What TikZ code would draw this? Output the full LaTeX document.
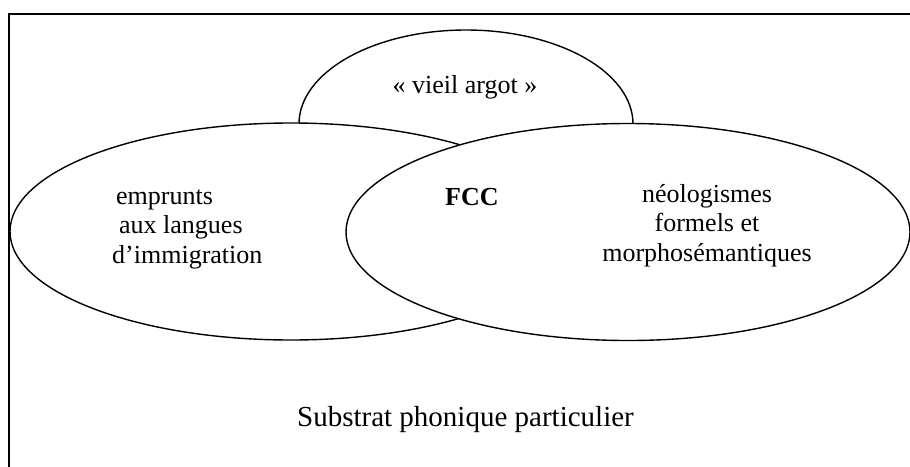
\documentclass[tikz,border=0pt]{standalone}
\usepackage{fontspec}
\setmainfont{Liberation Serif}
\usetikzlibrary{shapes.geometric}
\begin{document}
\begin{tikzpicture}[x=1pt,y=-1pt,
  blob/.style={draw=black,fill=white,line width=1.4pt,ellipse,inner sep=0pt},
  lbl/.style={font=\fontsize{26}{29.5}\selectfont,inner sep=0pt,anchor=base},
  big/.style={font=\fontsize{29}{34}\selectfont,inner sep=0pt,anchor=base}]
\useasboundingbox (0,0) rectangle (910,466);
\clip (0,0) rectangle (910,466);
\draw[line width=1.6pt] (9,14) rectangle (930,490);
\node[blob,minimum width=334pt,minimum height=188pt] (top) at (466,124) {};
\node[blob,minimum width=562pt,minimum height=217pt] (left) at (291,231.5) {};
\node[blob,minimum width=564pt,minimum height=217pt] (right) at (628,232) {};
\node[lbl,anchor=base] (va) at (465,93) {«~vieil argot~»};
\node[lbl,anchor=base west,align=left] (emp) at (112,263) {\hspace*{4pt}emprunts\\ \hspace*{7pt}aux langues\\ d’immigration};
\node[lbl,anchor=base west,font=\fontsize{26}{29.5}\selectfont\bfseries] (fcc) at (445,205) {FCC};
\node[lbl,align=center] (neo) at (707,261) {néologismes\\ formels et\\ morphosémantiques};
\node[big] (sub) at (465.5,426) {Substrat phonique particulier};
\end{tikzpicture}
\end{document}
